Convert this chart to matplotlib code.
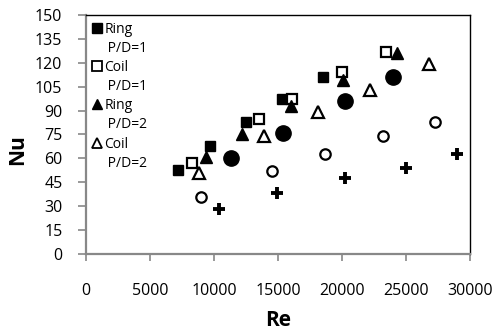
import matplotlib
matplotlib.use("Agg")
import matplotlib.pyplot as plt
from matplotlib.lines import Line2D

plt.rcParams['font.family'] = ['Open Sans', 'DejaVu Sans']

re_ring1 = [7200, 9700, 12500, 15300, 18500]
nu_ring1 = [53, 68, 83, 97, 111]
re_coil1 = [8300, 13500, 16100, 20000, 23400]
nu_coil1 = [57, 85, 97, 114, 127]
re_ring2 = [9400, 12200, 16000, 20100, 24300]
nu_ring2 = [61, 75, 93, 109, 126]
re_coil2 = [8800, 13900, 18100, 22200, 26800]
nu_coil2 = [51, 74, 89, 103, 119]
re_fcirc = [11300, 15400, 20200, 24000]
nu_fcirc = [60, 76, 96, 111]
re_ocirc = [9000, 14500, 18700, 23200, 27300]
nu_ocirc = [36, 52, 63, 74, 83]
re_plus = [10400, 14900, 20200, 25000, 29000]
nu_plus = [28, 38, 48, 54, 63]

legend_labels = ["Ring", "P/D=1", "Coil", "P/D=1", "Ring", "P/D=2", "Coil", "P/D=2"]
xticks = [0, 5000, 10000, 15000, 20000, 25000, 30000]
yticks = list(range(0, 151, 15))

fig = plt.figure(figsize=(4.96, 3.35), dpi=100)
ax = fig.add_axes([86/496, 1-254/335, 384/496, 239/335])

ax.plot(re_fcirc, nu_fcirc, 'o', color='black', ms=11, ls='none')
ax.plot(re_ocirc, nu_ocirc, 'o', mfc='white', mec='black', mew=1.6, ms=7.5, ls='none')
ax.plot(re_plus, nu_plus, '+', color='black', mew=2.8, ms=9, ls='none')
ax.plot(re_coil2, nu_coil2, '^', mfc='white', mec='black', mew=1.6, ms=8, ls='none')
ax.plot(re_ring1, nu_ring1, 's', color='black', ms=7.5, ls='none')
ax.plot(re_coil1, nu_coil1, 's', mfc='white', mec='black', mew=1.6, ms=7.5, ls='none')
ax.plot(re_ring2, nu_ring2, '^', color='black', ms=9, ls='none')

ax.set_xlim(0, 30000)
ax.set_ylim(0, 150)
ax.set_xticks(xticks)
ax.set_yticks(yticks)
ax.tick_params(axis='x', length=5, width=1.2, color='#888888', pad=16, labelsize=11.5)
ax.tick_params(axis='y', length=6, width=1.2, color='#888888', pad=11, labelsize=11.5)
for s in ['left', 'bottom']:
    ax.spines[s].set_color('#888888')
    ax.spines[s].set_linewidth(1.6)
for s in ['top', 'right']:
    ax.spines[s].set_color('black')
    ax.spines[s].set_linewidth(1.0)

ax.set_xlabel('Re', fontsize=15, fontweight='bold')
ax.set_ylabel('Nu', fontsize=15, fontweight='bold')
ax.xaxis.set_label_coords(0.5, -0.235)
ax.yaxis.set_label_coords(-0.15, 0.435)

none = Line2D([], [], ls='none', marker='None')
handles = [
    Line2D([], [], ls='none', marker='s', color='black', ms=6.5), none,
    Line2D([], [], ls='none', marker='s', mfc='white', mec='black', mew=1.3, ms=6.5), none,
    Line2D([], [], ls='none', marker='^', color='black', ms=7.5), none,
    Line2D([], [], ls='none', marker='^', mfc='white', mec='black', mew=1.3, ms=7), none,
]
labels = [legend_labels[i] if i % 2 == 0 else ' ' + legend_labels[i] for i in range(len(legend_labels))]
ax.legend(handles, labels, loc='upper left', bbox_to_anchor=(-0.005, 1.01), frameon=False,
          fontsize=10, handlelength=0.6, handletextpad=0.2, labelspacing=0.3,
          borderaxespad=0.25)

fig.savefig('out.png', dpi=100)
